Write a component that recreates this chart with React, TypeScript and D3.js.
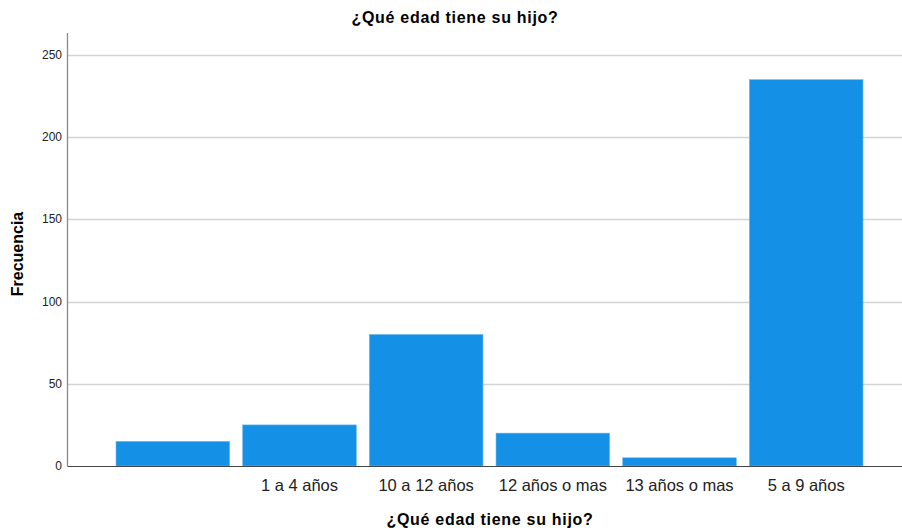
import React from "react";
import * as d3 from "d3";

const categories = ["", "1 a 4 años", "10 a 12 años", "12 años o mas", "13 años o mas", "5 a 9 años"];
const frequencies = [15, 25, 80, 20, 5, 235];
const yTicks = [0, 50, 100, 150, 200, 250];

const W = 902;
const H = 528;
const FONT = "'Liberation Sans', Arial, sans-serif";

export default function App() {
  const axisX = 67.5;
  const x = d3.scaleBand<string>().domain(categories.map((c, i) => String(i))).range([116, 863]).paddingInner(0.103).paddingOuter(0);
  const y = d3.scaleLinear().domain([0, 250]).range([466, 55]);
  const top = 33;
  return (
    <svg width={W} height={H} style={{ position: "absolute", left: 0, top: 0, background: "#fff" }}>
      <text x={455} y={23} textAnchor="middle" fontFamily={FONT} fontWeight="bold" fontSize={16} letterSpacing={0.7} fill="#000">¿Qué edad tiene su hijo?</text>
      {yTicks.filter(t => t > 0).map(t => (
        <line key={t} x1={axisX} x2={W} y1={Math.round(y(t)) + 0.5} y2={Math.round(y(t)) + 0.5} stroke="#d4d4d4" strokeWidth={1.3} />
      ))}
      {yTicks.map(t => (
        <text key={t} x={62} y={y(t) + 4} textAnchor="end" fontFamily={FONT} fontSize={12} fill="#222">{t}</text>
      ))}
      {frequencies.map((v, i) => (
        <rect key={i} x={x(String(i))} y={y(v)} width={x.bandwidth()} height={y(0) - y(v)} fill="#1491e6" stroke="#6fb9ee" strokeWidth={0.6} />
      ))}
      <line x1={axisX} x2={axisX} y1={top} y2={y(0)} stroke="#8a8a8a" strokeWidth={1.3} />
      <line x1={axisX} x2={W} y1={Math.round(y(0)) + 0.5} y2={Math.round(y(0)) + 0.5} stroke="#444" strokeWidth={1.2} />
      {categories.map((c, i) => (
        <text key={i} x={(x(String(i)) as number) + x.bandwidth() / 2} y={491} textAnchor="middle" fontFamily={FONT} fontSize={16.5} fill="#222">{c}</text>
      ))}
      <text x={490} y={525} textAnchor="middle" fontFamily={FONT} fontWeight="bold" fontSize={16} letterSpacing={0.7} fill="#000">¿Qué edad tiene su hijo?</text>
      <text transform={`translate(23,254) rotate(-90)`} textAnchor="middle" fontFamily={FONT} fontWeight="bold" fontSize={16} fill="#000">Frecuencia</text>
    </svg>
  );
}
